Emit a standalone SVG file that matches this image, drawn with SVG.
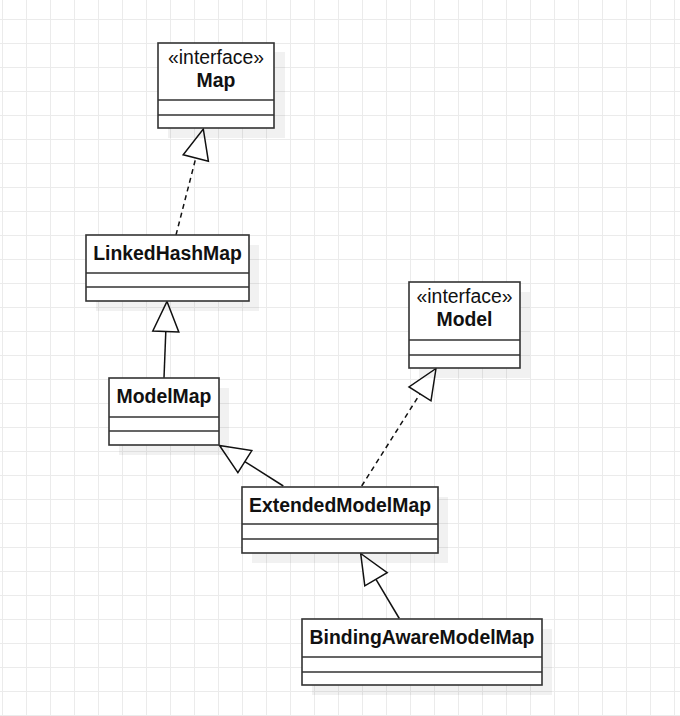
<svg xmlns="http://www.w3.org/2000/svg" width="680" height="716" viewBox="0 0 680 716">
<style>
.box{fill:#fff;stroke:#333;stroke-width:1.6}
.shadow{fill:#000;fill-opacity:0.055}
.div{stroke:#333;stroke-width:1.4;fill:none}
.t{font-family:"Liberation Sans",Arial,sans-serif;font-size:19.4px;fill:#111;text-anchor:middle}
.b{font-weight:bold}
.edge{stroke:#111;stroke-width:1.5;fill:none}
.dash{stroke-dasharray:5 4}
.head{fill:#fff;stroke:#111;stroke-width:1.5;stroke-linejoin:miter}
</style>
<defs>
<pattern id="grid" x="2" y="19" width="24" height="24" patternUnits="userSpaceOnUse">
<path d="M0.5 0V24M0 0.5H24" stroke="#ebebeb" stroke-width="1" fill="none"/>
</pattern>
</defs>
<rect width="680" height="716" fill="#fff"/>
<rect width="680" height="716" fill="url(#grid)"/>

<g id="connectors">
<path class="edge dash" d="M176 235L195.8 158"/>
<polygon class="head" points="203.3,129 208.4,161.3 183.2,154.8"/>
<path class="edge" d="M164 378L165.8 331.5"/>
<polygon class="head" points="167,301.5 178.8,332 152.8,331"/>
<path class="edge" d="M283.3 486L244.8 461.6"/>
<polygon class="head" points="219.5,445.5 251.8,450.6 237.9,472.6"/>
<path class="edge dash" d="M361.7 486L420 393.9"/>
<polygon class="head" points="436,368.5 431,400.8 409,386.9"/>
<path class="edge" d="M399.3 618.5L376 579.3"/>
<polygon class="head" points="360.7,553.5 387.2,572.7 364.8,585.9"/>
</g>

<g id="Map">
<rect class="shadow" x="168" y="52" width="117" height="86"/>
<rect class="box" x="158" y="43" width="116" height="85"/>
<path class="div" d="M158 100H274M158 115H274"/>
<text class="t" x="216" y="64">«interface»</text>
<text class="t b" x="216" y="87">Map</text>
</g>

<g id="LinkedHashMap">
<rect class="shadow" x="96" y="245" width="163" height="66"/>
<rect class="box" x="86" y="235" width="163" height="66"/>
<path class="div" d="M86 273H249M86 287H249"/>
<text class="t b" x="167.5" y="260">LinkedHashMap</text>
</g>

<g id="ModelMap">
<rect class="shadow" x="119" y="388" width="110" height="67"/>
<rect class="box" x="109" y="378" width="110" height="67"/>
<path class="div" d="M109 417H219M109 431H219"/>
<text class="t b" x="164" y="403">ModelMap</text>
</g>

<g id="Model">
<rect class="shadow" x="419" y="292" width="111" height="86"/>
<rect class="box" x="409" y="282" width="111" height="86"/>
<path class="div" d="M409 340H520M409 355H520"/>
<text class="t" x="464.5" y="303">«interface»</text>
<text class="t b" x="464.5" y="326">Model</text>
</g>

<g id="ExtendedModelMap">
<rect class="shadow" x="252" y="497" width="196" height="66"/>
<rect class="box" x="242" y="487" width="196" height="66"/>
<path class="div" d="M242 524H438M242 539H438"/>
<text class="t b" x="340" y="512">ExtendedModelMap</text>
</g>

<g id="BindingAwareModelMap">
<rect class="shadow" x="312" y="629" width="240" height="66"/>
<rect class="box" x="302" y="619" width="240" height="66"/>
<path class="div" d="M302 657H542M302 672H542"/>
<text class="t b" x="422" y="644">BindingAwareModelMap</text>
</g>
</svg>
